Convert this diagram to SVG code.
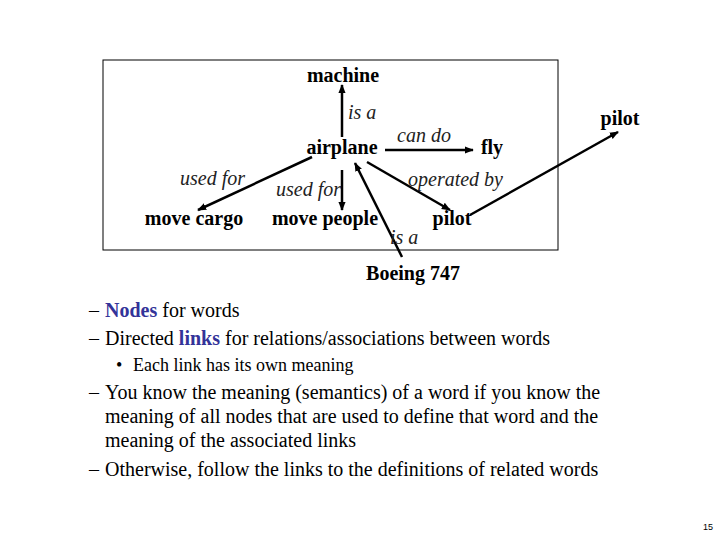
<svg xmlns="http://www.w3.org/2000/svg" width="720" height="540" viewBox="0 0 720 540">
<defs>
<marker id="ah" viewBox="0 0 10 10" refX="9" refY="5" markerWidth="9" markerHeight="9" markerUnits="userSpaceOnUse" orient="auto">
<path d="M0,1 L10,5 L0,9 z" fill="#000"/>
</marker>
<style>
.n{font-family:"Liberation Serif",serif;font-weight:bold;font-size:20px;fill:#000}
.l{font-family:"Liberation Serif",serif;font-style:italic;font-size:20px;fill:#222}
.b{font-family:"Liberation Serif",serif;font-size:20px;fill:#000}
.s{font-family:"Liberation Serif",serif;font-size:18px;fill:#000}
.hl{font-weight:bold;fill:#333399}
.e{stroke:#000;stroke-width:2.5;fill:none;marker-end:url(#ah)}
</style>
</defs>
<rect width="720" height="540" fill="#fff"/>
<rect x="103" y="60" width="455" height="190" fill="none" stroke="#000" stroke-width="1"/>
<g id="connectors">
<line class="e" x1="342" y1="137" x2="342" y2="85"/>
<line class="e" x1="385" y1="150" x2="473" y2="150"/>
<line class="e" x1="312" y1="157" x2="198" y2="210"/>
<line class="e" x1="342" y1="170" x2="342" y2="210"/>
<line class="e" x1="367" y1="162" x2="450" y2="210"/>
<line class="e" x1="402" y1="257" x2="355" y2="163"/>
<line class="e" x1="470" y1="215" x2="618" y2="132"/>
</g>
<g id="labels">
<text class="l" x="348" y="119">is a</text>
<text class="l" x="397" y="142">can do</text>
<text class="l" x="180" y="185">used for</text>
<text class="l" x="276" y="196">used for</text>
<text class="l" x="408" y="186">operated by</text>
<text class="l" x="390" y="244">is a</text>
</g>
<g id="machine"><text class="n" x="343" y="82" text-anchor="middle">machine</text></g>
<g id="airplane"><text class="n" x="342" y="154" text-anchor="middle">airplane</text></g>
<g id="fly"><text class="n" x="492" y="154" text-anchor="middle">fly</text></g>
<g id="pilot-top"><text class="n" x="620" y="125" text-anchor="middle">pilot</text></g>
<g id="move-cargo"><text class="n" x="194" y="225" text-anchor="middle">move cargo</text></g>
<g id="move-people"><text class="n" x="325" y="225" text-anchor="middle">move people</text></g>
<g id="pilot"><text class="n" x="452" y="225" text-anchor="middle">pilot</text></g>
<g id="boeing"><text class="n" x="413" y="280" text-anchor="middle">Boeing 747</text></g>
<g id="bullets">
<text class="b" x="89" y="317">–</text>
<text class="b" x="105" y="317"><tspan class="hl">Nodes</tspan> for words</text>
<text class="b" x="89" y="345">–</text>
<text class="b" x="105" y="345">Directed <tspan class="hl">links</tspan> for relations/associations between words</text>
<text class="s" x="116" y="371">•</text>
<text class="s" x="133" y="371">Each link has its own meaning</text>
<text class="b" x="89" y="399">–</text>
<text class="b" x="105" y="399">You know the meaning (semantics) of a word if you know the</text>
<text class="b" x="105" y="423">meaning of all nodes that are used to define that word and the</text>
<text class="b" x="105" y="447">meaning of the associated links</text>
<text class="b" x="89" y="476">–</text>
<text class="b" x="105" y="476">Otherwise, follow the links to the definitions of related words</text>
</g>
<text x="703" y="530" font-family="Liberation Sans, sans-serif" font-size="9" fill="#000">15</text>
</svg>
